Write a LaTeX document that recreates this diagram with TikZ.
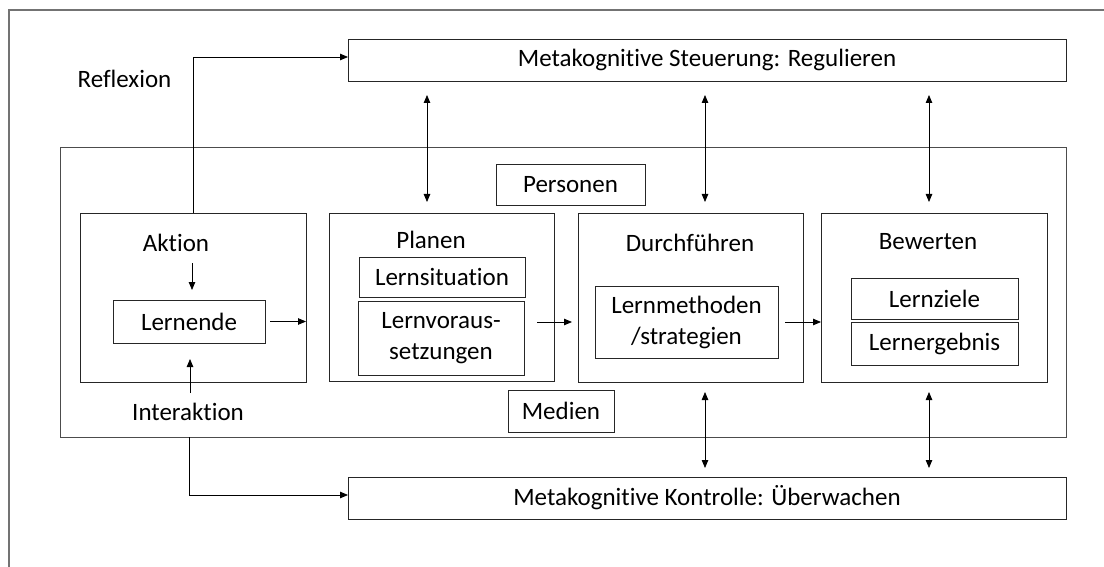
\documentclass[tikz,border=0pt]{standalone}
\usepackage{fontspec}
\setmainfont[Ligatures={NoCommon,NoRare,NoDiscretionary,NoContextual}]{Carlito}
\usetikzlibrary{arrows.meta}
\newcommand\dtxt{\fontsize{25}{31}\selectfont}
\begin{document}
\begin{tikzpicture}[x=1pt,y=-1pt,
  box/.style={draw=black!85, line width=0.9pt, inner sep=0pt, outer sep=0pt, align=center, font=\dtxt},
  lbl/.style={inner sep=0pt, font=\dtxt},
  arr/.style={line width=0.8pt, -{Triangle[length=8pt,width=6.5pt]}},
  darr/.style={line width=0.8pt, {Triangle[length=8pt,width=6.5pt]}-{Triangle[length=8pt,width=6.5pt]}}]
\useasboundingbox (0,0) rectangle (1104,567);
\fill[white] (0,0) rectangle (1104,567);
\draw[black!55, line width=1.5pt] (1104,10) -- (9,10) -- (9,567);

\node[box, minimum width=718pt, minimum height=42pt] (steu) at (707,60) {Metakognitive Steuerung: Regulieren};
\node[box, minimum width=718pt, minimum height=42pt] (kontr) at (707,498) {Metakognitive Kontrolle: Überwachen};
\node[box, draw=black!70, minimum width=1006pt, minimum height=290pt] (main) at (563,292) {};
\node[box, minimum width=226pt, minimum height=169pt] (aktion) at (193,297.5) {};
\node[box, minimum width=225pt, minimum height=168pt] (planen) at (441.5,297) {};
\node[box, minimum width=225pt, minimum height=169pt] (durch) at (690.5,297.5) {};
\node[box, minimum width=226pt, minimum height=169pt] (bewert) at (934,297.5) {};
\node[box, minimum width=149pt, minimum height=41pt] (pers) at (570.5,184.5) {Personen};
\node[box, minimum width=106pt, minimum height=42pt] (med) at (561,411) {Medien};
\node[box, minimum width=152pt, minimum height=43pt] (lernende) at (189,321.5) {Lernende};
\node[box, minimum width=166pt, minimum height=40pt] (lernsit) at (442,277) {Lernsituation};
\node[box, minimum width=166pt, minimum height=74pt] (lernvor) at (441,338) {Lernvoraus-\\setzungen};
\node[box, minimum width=183pt, minimum height=72pt] (lernmeth) at (686.5,322) {Lernmethoden\\/strategien};
\node[box, minimum width=167pt, minimum height=41pt] (lernziele) at (934.5,298.5) {Lernziele};
\node[box, minimum width=167pt, minimum height=43pt] (lernerg) at (934.5,343.5) {Lernergebnis};

\node[lbl] (refl) at (124.5,79) {Reflexion};
\node[lbl] (aktlbl) at (176,243) {Aktion};
\node[lbl] (interlbl) at (188,412) {Interaktion};
\node[lbl] (planlbl) at (431,240) {Planen};
\node[lbl] (durchlbl) at (690,243) {Durchführen};
\node[lbl] (bewlbl) at (928,242) {Bewerten};

\coordinate (a1) at (192,263);
\coordinate (i1) at (190,393);

\draw[arr] (aktion.north) |- ([yshift=3pt]steu.west);
\draw[arr] (lernende.south |- main.south) |- ([yshift=3pt]kontr.west);
\draw[arr, shorten >=10pt] (a1) -- (a1 |- lernende.north);
\draw[arr, shorten >=16pt] (i1) -- (i1 |- lernende.south);
\draw[arr, shorten <=5pt] (lernende.east) -- (lernende.east -| aktion.east);
\draw[arr, shorten <=13pt, shorten >=6pt] (lernvor.east |- lernmeth.center) -- (durch.west |- lernmeth.center);
\draw[arr, shorten <=7pt] (lernmeth.east) -- (bewert.west |- lernmeth.center);

\draw[darr, shorten <=14pt, shorten >=11pt] ([xshift=-14.5pt]planen.north |- steu.south) -- ([xshift=-14.5pt]planen.north);
\draw[darr, shorten <=14pt, shorten >=11pt] ([xshift=14.5pt]durch.north |- steu.south) -- ([xshift=14.5pt]durch.north);
\draw[darr, shorten <=14pt, shorten >=11pt] ([xshift=-5pt]bewert.north |- steu.south) -- ([xshift=-5pt]bewert.north);
\draw[darr, shorten <=10pt, shorten >=9pt] ([xshift=14.5pt]durch.south) -- ([xshift=14.5pt]durch.south |- kontr.north);
\draw[darr, shorten <=10pt, shorten >=9pt] ([xshift=-5pt]bewert.south) -- ([xshift=-5pt]bewert.south |- kontr.north);
\end{tikzpicture}
\end{document}
